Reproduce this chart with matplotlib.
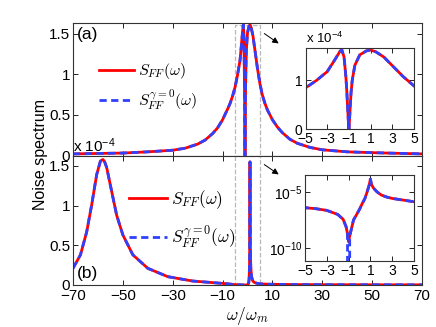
import matplotlib
matplotlib.use('Agg')
import matplotlib.pyplot as plt
from matplotlib.patches import Rectangle, FancyArrowPatch
import numpy as np

plt.rcParams['font.family'] = ['Liberation Sans', 'DejaVu Sans']
plt.rcParams['mathtext.fontset'] = 'cm'
plt.rcParams['mathtext.rm'] = 'Liberation Sans'
plt.rcParams['mathtext.it'] = 'Liberation Sans:italic'
plt.rcParams['mathtext.sf'] = 'Liberation Sans'

# ---------------- data ----------------
# panel (a): noise spectrum (same for both curves)
w_a = [-70, -60, -50, -40, -30, -25, -20, -17, -14, -12, -10, -8, -7, -6, -5, -4, -3,
       -2.3, -1.8, -1.65, -1.45, -1.28, -1.2, -1.12, -1.06, -1.0, -0.94, -0.88, -0.8,
       -0.69, -0.45, 0, 0.6, 1.0, 1.5, 2.2, 3.1, 4.0, 5, 6, 7, 8, 10, 12, 14, 17, 20,
       25, 30, 40, 50, 60, 70]
s_a = [0.02, 0.025, 0.03, 0.045, 0.065, 0.09, 0.14, 0.19, 0.27, 0.34, 0.44, 0.57, 0.64,
       0.73, 0.84, 0.99, 1.17, 1.41, 1.59, 1.61, 1.47, 1.07, 0.80, 0.46, 0.20, 0.0, 0.20,
       0.46, 0.75, 1.00, 1.30, 1.51, 1.59, 1.61, 1.57, 1.47, 1.27, 1.07, 0.88, 0.74, 0.64,
       0.56, 0.44, 0.35, 0.28, 0.20, 0.15, 0.10, 0.07, 0.045, 0.035, 0.027, 0.02]
s_a0 = list(s_a)

# panel (b): noise spectrum in units of 1e-4
w_b = [-70, -67, -64.5, -62.5, -60.5, -59, -58, -57.3, -56.5, -54.5, -52.5, -50, -46, -40,
       -32, -22, -12, -8, -5, -4, -3, -2, -1.5, -1.23, -1.1, -1.0, -0.9, -0.8, -0.55, 0,
       0.25, 0.5, 0.65, 0.8, 0.9, 1.0, 1.1, 1.3, 1.6, 2.0, 2.5, 3, 4, 5, 8, 12, 20, 30,
       45, 70]
s_b = [0.21, 0.38, 0.67, 1.01, 1.39, 1.56, 1.58, 1.55, 1.48, 1.18, 0.88, 0.63, 0.38, 0.21,
       0.105, 0.05, 0.025, 0.015, 0.00427, 0.00347, 0.00245, 0.00107, 0.00039, 8.5e-5,
       2.0e-5, 3.9e-6, 1.3e-5, 3.2e-5, 0.00034, 0.0030, 0.010, 0.0288, 0.079, 0.229, 0.5,
       1.55, 0.5, 0.229, 0.112, 0.0575, 0.038, 0.0288, 0.0204, 0.0145, 0.01, 0.008, 0.005,
       0.004, 0.003, 0.002]
s_b0 = list(s_b)
s_b0[w_b.index(-1.0)] = 0.0   # gamma = 0 curve vanishes exactly at the dip

xticks_main = [-70, -50, -30, -10, 10, 30, 50, 70]
yticks_main = [0, 0.5, 1, 1.5]
xticks_inset = [-5, -3, -1, 1, 3, 5]
label_ff = r'$S_{FF}(\omega)$'
label_ff0 = r'$S_{FF}^{\gamma=0}(\omega)$'

RED = '#ff0000'
BLUE = '#3040ff'
SPINE = '0.2'
DASH = (0, (2.6, 1.6))

fig = plt.figure(figsize=(4.36, 3.27), dpi=100)
W, H = 436.0, 327.0

def fpos(x0, y0, x1, y1):
    return [x0 / W, 1 - y1 / H, (x1 - x0) / W, (y1 - y0) / H]

axA = fig.add_axes(fpos(73, 23, 422, 155.5))
axB = fig.add_axes(fpos(73, 155.5, 422, 285))
insA = fig.add_axes(fpos(305.5, 47.5, 414, 129.3))
insB = fig.add_axes(fpos(305, 175, 414, 261))

def style(ax, fs):
    ax.tick_params(direction='in', top=True, right=True, length=3.5, width=0.6,
                   labelsize=fs, colors='k', pad=2)
    for sp in ax.spines.values():
        sp.set_color(SPINE)
        sp.set_linewidth(0.8)

# --- panel (a)
la1, = axA.plot(w_a, s_a, color=RED, lw=2, label=label_ff)
la2, = axA.plot(w_a, s_a0, color=BLUE, lw=2, ls=DASH, label=label_ff0)
axA.set_xlim(-70, 70)
axA.set_ylim(0, 1.63)
axA.set_xticks(xticks_main)
axA.set_yticks(yticks_main)
axA.set_yticklabels(['0', '0.5', '1', '1.5'])
axA.tick_params(labelbottom=False)
style(axA, 11)
axA.add_patch(Rectangle((-5, 0), 10, 1.61, fill=False, ls='--', ec='0.72', lw=0.9, zorder=1))
axA.text(0.012, 0.915, '(a)', transform=axA.transAxes, fontsize=12.5, va='center', ha='left')
axA.legend(handles=[la1, la2], loc='center left', bbox_to_anchor=(0.075, 0.52),
           frameon=False, fontsize=11.5, handlelength=2.2, handletextpad=0.25,
           labelspacing=0.35, borderpad=0, borderaxespad=0)

# --- panel (b)
lb1, = axB.plot(w_b, s_b, color=RED, lw=2, label=label_ff)
lb2, = axB.plot(w_b, s_b0, color=BLUE, lw=2, ls=DASH, label=label_ff0)
axB.set_xlim(-70, 70)
axB.set_ylim(0, 1.63)
axB.set_xticks(xticks_main)
axB.set_xticklabels(['\u221270', '\u221250', '\u221230', '\u221210', '10', '30', '50', '70'])
axB.set_yticks(yticks_main)
axB.set_yticklabels(['0', '0.5', '1', '1.5'])
style(axB, 11)
axB.tick_params(axis='x', pad=3)
axB.add_patch(Rectangle((-5, 0), 10, 1.63, fill=False, ls='--', ec='0.72', lw=0.9, zorder=1))
axB.text(0.012, 0.085, '(b)', transform=axB.transAxes, fontsize=12.5, va='center', ha='left')
axB.legend(handles=[lb1, lb2], loc='center left', bbox_to_anchor=(0.16, 0.505),
           frameon=False, fontsize=12.5, handlelength=2.2, handletextpad=0.25,
           labelspacing=0.7, borderpad=0, borderaxespad=0)
axB.set_xlabel(r'$\omega/\omega_m$', fontsize=12.5, labelpad=1)
fig.text(73 / W, 1 - 152 / H, r'x 10$^{-4}$', fontsize=11, ha='left', va='baseline',
         math_fontfamily='custom')
fig.text(40 / W, 1 - 155 / H, 'Noise spectrum', rotation=90, fontsize=11.5,
         ha='center', va='center')

# --- inset (a)
insA.plot(w_a, s_a, color=RED, lw=2)
insA.plot(w_a, s_a0, color=BLUE, lw=2, ls=DASH)
insA.set_xlim(-5, 5)
insA.set_ylim(0, 1.66)
insA.set_xticks(xticks_inset)
insA.set_xticklabels(['\u22125', '\u22123', '\u22121', '1', '3', '5'])
insA.set_yticks([0, 1])
style(insA, 10)
fig.text(305.7 / W, 1 - 43 / H, r'x 10$^{-4}$', fontsize=9.5, ha='left', va='baseline',
         math_fontfamily='custom')

# --- inset (b)
insB.plot(w_b, np.array(s_b) * 1e-4, color=RED, lw=2)
insB.plot(w_b, np.array(s_b0) * 1e-4, color=BLUE, lw=2, ls=DASH)
insB.set_yscale('log')
insB.set_xlim(-5, 5)
insB.set_ylim(10 ** -11.13, 10 ** -3.45)
insB.set_xticks(xticks_inset)
insB.set_xticklabels(['\u22125', '\u22123', '\u22121', '1', '3', '5'])
insB.minorticks_off()
insB.set_yticks([1e-10, 1e-5])
insB.set_yticklabels([r'10$^{-10}$', r'10$^{-5}$'], math_fontfamily='custom')
style(insB, 10)

# arrows (figure level, above all axes)
for (x0, y0, x1, y1) in [(262, 32, 281, 45), (262, 163, 281, 176)]:
    arr = FancyArrowPatch((x0 / W, 1 - y0 / H), (x1 / W, 1 - y1 / H),
                          transform=fig.transFigure, arrowstyle='-|>', color='k',
                          lw=0.7, mutation_scale=9, zorder=10)
    fig.add_artist(arr)

fig.savefig('out.png', dpi=100)
